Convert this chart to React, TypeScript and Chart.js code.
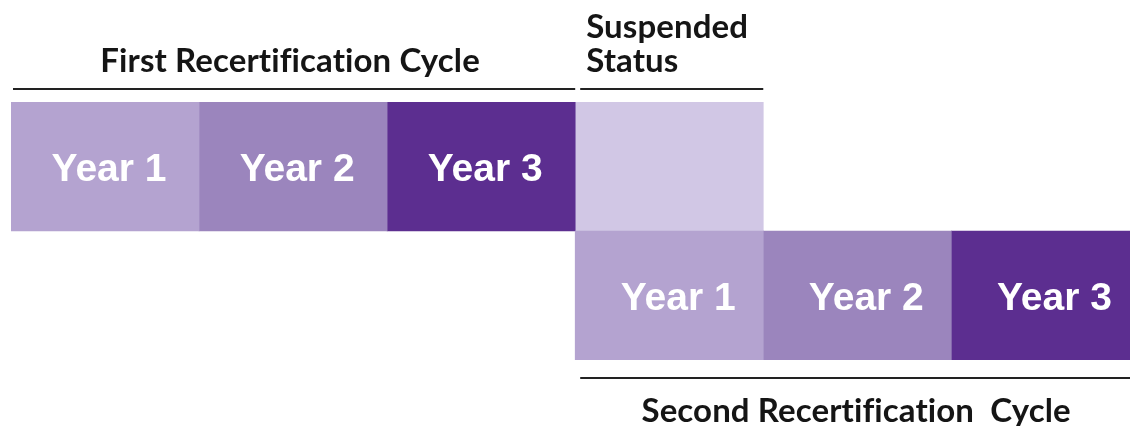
import React, { useEffect, useRef } from "react";
import { Chart, registerables } from "chart.js";

Chart.register(...registerables);

const rows = ["First Recertification Cycle", "Second Recertification  Cycle"];
const seriesNames = ["Year 1", "Year 2", "Year 3", "Suspended Status"];
const year1 = [[0, 1], [3, 4]];
const year2 = [[1, 2], [4, 5]];
const year3 = [[2, 3], [5, 6]];
const suspended = [[3, 4], null];
const barLabels = ["Year 1", "Year 2", "Year 3", ""];
const colors = ["#b4a3d0", "#9b85bd", "#5c2e90", "#d1c7e5"];

const overlayPlugin = {
  id: "overlay",
  afterDatasetsDraw(chart: any) {
    const ctx = chart.ctx;
    const x = chart.scales.x;
    ctx.save();
    // bar labels
    ctx.fillStyle = "#ffffff";
    ctx.font = "bold 39px 'Liberation Sans', Arial, sans-serif";
    ctx.textAlign = "center";
    ctx.textBaseline = "alphabetic";
    chart.data.datasets.forEach((ds: any, di: number) => {
      const meta = chart.getDatasetMeta(di);
      const lbl = barLabels[di];
      if (!lbl) return;
      meta.data.forEach((el: any, i: number) => {
        if (!ds.data[i]) return;
        const props = el.getProps(["x", "y", "base"], true);
        const cx = (props.x + props.base) / 2 + (i === 0 ? 4 : 9);
        ctx.fillText(lbl, cx, props.y + 14);
      });
    });

    // header lines
    ctx.strokeStyle = "#222222";
    ctx.lineWidth = 2;
    const line = (a: number, b: number, y: number) => {
      ctx.beginPath();
      ctx.moveTo(a, y);
      ctx.lineTo(b, y);
      ctx.stroke();
    };
    const p0 = x.getPixelForValue(0);
    const p3 = x.getPixelForValue(3);
    const p4 = x.getPixelForValue(4);
    const pEnd = chart.width;
    line(p0 + 2, p3, 89);
    line(p3 + 5, p4, 89);
    line(p3 + 5, pEnd, 378);

    ctx.fillStyle = "#151515";
    ctx.font = "bold 33px Lato, 'Open Sans', sans-serif";
    try {
      (ctx as any).letterSpacing = "0.1px";
    } catch (e) {}
    ctx.textAlign = "center";
    ctx.fillText(rows[0], (p0 + p3) / 2 - 3, 72);
    ctx.fillText(rows[1], (p3 + 5 + pEnd) / 2 + 1, 422);
    ctx.textAlign = "left";
    ctx.fillText("Suspended", p3 + 11, 38);
    ctx.fillText("Status", p3 + 11, 72);
    ctx.restore();
  },
};

export default function App() {
  const ref = useRef<HTMLCanvasElement>(null);
  useEffect(() => {
    if (!ref.current) return;
    const datasets = [year1, year2, year3, suspended].map((d, i) => ({
      label: seriesNames[i],
      data: d,
      backgroundColor: colors[i],
      borderWidth: 0,
      grouped: false,
      barPercentage: 1,
      categoryPercentage: 1,
    }));
    const chart = new Chart(ref.current, {
      type: "bar",
      data: { labels: rows, datasets: datasets as any },
      options: {
        indexAxis: "y",
        animation: false,
        responsive: false,
        maintainAspectRatio: false,
        layout: { padding: { top: 102, bottom: 66, left: 11, right: 0 } },
        plugins: { legend: { display: false }, tooltip: { enabled: false } },
        scales: {
          x: { type: "linear", min: 0, max: 5.95, display: false },
          y: { type: "category", display: false },
        },
      },
      plugins: [overlayPlugin],
    });
    return () => chart.destroy();
  }, []);
  return (
    <div style={{ position: "absolute", left: 0, top: 0, width: 1130, height: 426, background: "#fff" }}>
      <canvas ref={ref} width={1130} height={426} style={{ display: "block" }} />
    </div>
  );
}
